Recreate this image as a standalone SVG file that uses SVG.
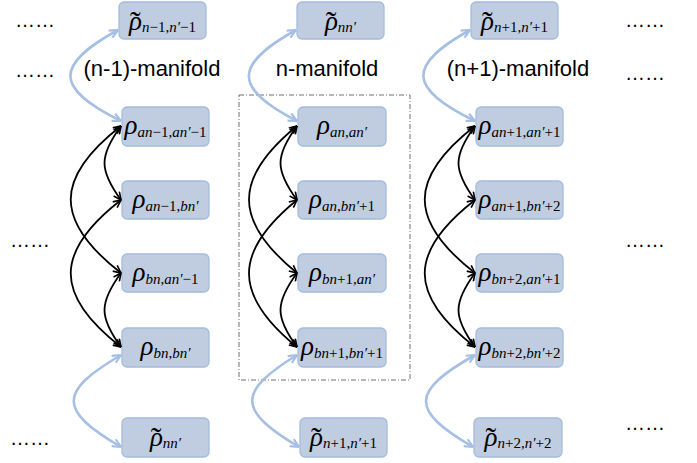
<svg xmlns="http://www.w3.org/2000/svg" width="697" height="463" viewBox="0 0 697 463">
<style>
.box{fill:#c0cde0;stroke:#a4bcdd;stroke-width:1.3}
.m{font-family:"Liberation Serif","Times New Roman",serif;font-style:italic;fill:#000;text-anchor:middle}
.r{font-size:27px}
.t{font-size:32px;font-style:normal}
.s{font-size:15px}
.u{font-style:normal}
.lab{font-family:"Liberation Sans",Arial,sans-serif;font-size:22px;fill:#000;text-anchor:middle}
.dots{font-family:"Liberation Sans",Arial,sans-serif;font-size:20px;fill:#000}
.bk{fill:none;stroke:#000;stroke-width:1.8;marker-start:url(#ak);marker-end:url(#ak)}
.bl{fill:none;stroke:#a6bfe3;stroke-width:2.6;marker-start:url(#ab);marker-end:url(#ab)}
.frame{fill:none;stroke:#707070;stroke-width:1;stroke-dasharray:5 2 1 2}
</style>
<defs>
<marker id="ak" viewBox="0 0 10 10" refX="9.5" refY="5" markerWidth="9" markerHeight="9" markerUnits="userSpaceOnUse" orient="auto-start-reverse">
<path d="M1,1 L9.5,5 L1,9" fill="none" stroke="#000" stroke-width="1.8"/>
</marker>
<marker id="ab" viewBox="0 0 10 10" refX="9.5" refY="5" markerWidth="10" markerHeight="10" markerUnits="userSpaceOnUse" orient="auto-start-reverse">
<path d="M1,1 L9.5,5 L1,9" fill="none" stroke="#a6bfe3" stroke-width="2.2"/>
</marker>
</defs>

<rect class="frame" x="239" y="95" width="171" height="285"/>

<g id="labels">
<text class="lab" x="152" y="76">(n-1)-manifold</text>
<text class="lab" x="327" y="76">n-manifold</text>
<text class="lab" x="518" y="76">(n+1)-manifold</text>
<text class="dots" x="15" y="27">……</text>
<text class="dots" x="15" y="77">……</text>
<text class="dots" x="10" y="247">……</text>
<text class="dots" x="10" y="445">……</text>
<text class="dots" x="625" y="27">……</text>
<text class="dots" x="625" y="80">……</text>
<text class="dots" x="625" y="247">……</text>
<text class="dots" x="625" y="430">……</text>
</g>

<!-- column 1 -->
<g id="c1_top"><rect class="box" x="119" y="2" width="87" height="37" rx="5"/>
<text class="m" x="162.5" y="30"><tspan class="r">ρ</tspan><tspan class="t" dx="-12" dy="3">˜</tspan><tspan class="s" dx="1.3" dy="-1">n<tspan class="u">−1,</tspan>n′<tspan class="u">−1</tspan></tspan></text></g>
<g id="c1_a"><rect class="box" x="122" y="107" width="87" height="39" rx="5"/>
<text class="m" x="165.5" y="134"><tspan class="r">ρ</tspan><tspan class="s" dy="3">an<tspan class="u">−1,</tspan>an′<tspan class="u">−1</tspan></tspan></text></g>
<g id="c1_b"><rect class="box" x="122" y="181" width="87" height="38" rx="5"/>
<text class="m" x="165.5" y="208"><tspan class="r">ρ</tspan><tspan class="s" dy="3">an<tspan class="u">−1,</tspan>bn′</tspan></text></g>
<g id="c1_c"><rect class="box" x="122" y="254" width="87" height="38" rx="5"/>
<text class="m" x="165.5" y="281"><tspan class="r">ρ</tspan><tspan class="s" dy="3">bn<tspan class="u">,</tspan>an′<tspan class="u">−1</tspan></tspan></text></g>
<g id="c1_d"><rect class="box" x="122" y="328" width="87" height="39" rx="5"/>
<text class="m" x="165.5" y="355"><tspan class="r">ρ</tspan><tspan class="s" dy="3">bn<tspan class="u">,</tspan>bn′</tspan></text></g>
<g id="c1_bot"><rect class="box" x="122" y="418" width="87" height="39" rx="5"/>
<text class="m" x="165.5" y="446"><tspan class="r">ρ</tspan><tspan class="t" dx="-12" dy="3">˜</tspan><tspan class="s" dx="1.3" dy="-1">nn′</tspan></text></g>

<!-- column 2 -->
<g id="c2_top"><rect class="box" x="297" y="2" width="87" height="37" rx="5"/>
<text class="m" x="340.5" y="30"><tspan class="r">ρ</tspan><tspan class="t" dx="-12" dy="3">˜</tspan><tspan class="s" dx="1.3" dy="-1">nn′</tspan></text></g>
<g id="c2_a"><rect class="box" x="298" y="107" width="88" height="39" rx="5"/>
<text class="m" x="342" y="134"><tspan class="r">ρ</tspan><tspan class="s" dy="3">an<tspan class="u">,</tspan>an′</tspan></text></g>
<g id="c2_b"><rect class="box" x="298" y="181" width="88" height="38" rx="5"/>
<text class="m" x="342" y="208"><tspan class="r">ρ</tspan><tspan class="s" dy="3">an<tspan class="u">,</tspan>bn′<tspan class="u">+1</tspan></tspan></text></g>
<g id="c2_c"><rect class="box" x="298" y="254" width="88" height="38" rx="5"/>
<text class="m" x="342" y="281"><tspan class="r">ρ</tspan><tspan class="s" dy="3">bn<tspan class="u">+1,</tspan>an′</tspan></text></g>
<g id="c2_d"><rect class="box" x="298" y="328" width="88" height="39" rx="5"/>
<text class="m" x="342" y="355"><tspan class="r">ρ</tspan><tspan class="s" dy="3">bn<tspan class="u">+1,</tspan>bn′<tspan class="u">+1</tspan></tspan></text></g>
<g id="c2_bot"><rect class="box" x="300" y="418" width="87" height="39" rx="5"/>
<text class="m" x="343.5" y="446"><tspan class="r">ρ</tspan><tspan class="t" dx="-12" dy="3">˜</tspan><tspan class="s" dx="1.3" dy="-1">n<tspan class="u">+1,</tspan>n′<tspan class="u">+1</tspan></tspan></text></g>

<!-- column 3 -->
<g id="c3_top"><rect class="box" x="471" y="2" width="87" height="37" rx="5"/>
<text class="m" x="514.5" y="30"><tspan class="r">ρ</tspan><tspan class="t" dx="-12" dy="3">˜</tspan><tspan class="s" dx="1.3" dy="-1">n<tspan class="u">+1,</tspan>n′<tspan class="u">+1</tspan></tspan></text></g>
<g id="c3_a"><rect class="box" x="476" y="107" width="87" height="39" rx="5"/>
<text class="m" x="519.5" y="134"><tspan class="r">ρ</tspan><tspan class="s" dy="3">an<tspan class="u">+1,</tspan>an′<tspan class="u">+1</tspan></tspan></text></g>
<g id="c3_b"><rect class="box" x="476" y="181" width="87" height="38" rx="5"/>
<text class="m" x="519.5" y="208"><tspan class="r">ρ</tspan><tspan class="s" dy="3">an<tspan class="u">+1,</tspan>bn′<tspan class="u">+2</tspan></tspan></text></g>
<g id="c3_c"><rect class="box" x="476" y="254" width="87" height="38" rx="5"/>
<text class="m" x="519.5" y="281"><tspan class="r">ρ</tspan><tspan class="s" dy="3">bn<tspan class="u">+2,</tspan>an′<tspan class="u">+1</tspan></tspan></text></g>
<g id="c3_d"><rect class="box" x="476" y="328" width="87" height="39" rx="5"/>
<text class="m" x="519.5" y="355"><tspan class="r">ρ</tspan><tspan class="s" dy="3">bn<tspan class="u">+2,</tspan>bn′<tspan class="u">+2</tspan></tspan></text></g>
<g id="c3_bot"><rect class="box" x="474" y="418" width="88" height="39" rx="5"/>
<text class="m" x="518" y="446"><tspan class="r">ρ</tspan><tspan class="t" dx="-12" dy="3">˜</tspan><tspan class="s" dx="1.3" dy="-1">n<tspan class="u">+2,</tspan>n′<tspan class="u">+2</tspan></tspan></text></g>

<g id="connectors">
<!-- blue -->
<path class="bl" d="M118,30 C54,65 54,88 121,121"/>
<path class="bl" d="M296,30 C233,65 233,88 297,121"/>
<path class="bl" d="M470,30 C407,65 407,88 475,121"/>
<path class="bl" d="M121,355 C58,392 58,410 121,447"/>
<path class="bl" d="M297,355 C237,392 237,410 299,447"/>
<path class="bl" d="M475,355 C410,392 410,410 473,447"/>
<!-- black col1 -->
<path class="bk" d="M121,126 C99,156 99,170 121,200"/>
<path class="bk" d="M121,273 C99,303 99,317 121,347"/>
<path class="bk" d="M121,126 C54,178 54,221 121,273"/>
<path class="bk" d="M121,200 C54,252 54,295 121,347"/>
<!-- black col2 -->
<path class="bk" d="M297,126 C275,156 275,170 297,200"/>
<path class="bk" d="M297,273 C275,303 275,317 297,347"/>
<path class="bk" d="M297,126 C233,178 233,221 297,273"/>
<path class="bk" d="M297,200 C233,252 233,295 297,347"/>
<!-- black col3 -->
<path class="bk" d="M475,126 C453,156 453,170 475,200"/>
<path class="bk" d="M475,273 C453,303 453,317 475,347"/>
<path class="bk" d="M475,126 C408,178 408,221 475,273"/>
<path class="bk" d="M475,200 C408,252 408,295 475,347"/>
</g>
</svg>
